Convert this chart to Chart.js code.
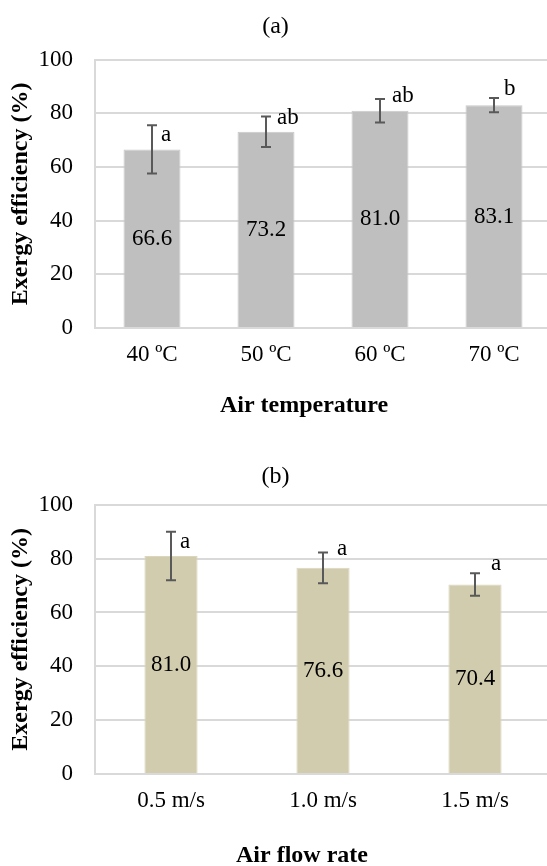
<!DOCTYPE html>
<html>
<head>
<meta charset="utf-8">
<script src="https://cdn.jsdelivr.net/npm/chart.js@4.4.1/dist/chart.umd.min.js"></script>
<style>
  html, body { margin: 0; padding: 0; background: #fff; width: 547px; height: 866px; overflow: hidden; }
  .panel { position: absolute; left: 0; }
  canvas { display: block; }
</style>
</head>
<body>
<div class="panel" style="top:0px"><canvas id="tempChart" width="551" height="433"></canvas></div>
<div class="panel" style="top:433px"><canvas id="flowChart" width="551" height="440"></canvas></div>
<script>
// Panel (a): exergy efficiency vs. drying air temperature
const tempLabels = ['40 ºC', '50 ºC', '60 ºC', '70 ºC'];
const tempMeans  = [66.6, 73.2, 81.0, 83.1];
const tempSD     = [9.0, 5.7, 4.4, 2.7];
const tempGroups = ['a', 'ab', 'ab', 'b'];

// Panel (b): exergy efficiency vs. air flow rate
const flowLabels = ['0.5 m/s', '1.0 m/s', '1.5 m/s'];
const flowMeans  = [81.0, 76.6, 70.4];
const flowSD     = [9.0, 5.7, 4.2];
const flowGroups = ['a', 'a', 'a'];

// Shared y axis
const yMin = 0, yMax = 100, yStep = 20;
const yTitle = 'Exergy efficiency (%)';

const SERIF = '"Liberation Serif", "Times New Roman", Times, serif';
const GRID = '#D9D9D9';

// Error bars, in-bar value labels and significance letters
const barAnnotations = {
  id: 'barAnnotations',
  afterDatasetsDraw(chart, args, opts) {
    const ctx = chart.ctx;
    const yScale = chart.scales.y;
    const ds = chart.data.datasets[0];
    const meta = chart.getDatasetMeta(0);
    ctx.save();
    meta.data.forEach((bar, i) => {
      const v = ds.data[i];
      const e = ds.errors[i];
      const x = bar.x;
      const yTop = yScale.getPixelForValue(v + e);
      const yBot = yScale.getPixelForValue(v - e);
      ctx.strokeStyle = opts.color;
      ctx.lineWidth = opts.lineWidth;
      ctx.beginPath();
      ctx.moveTo(x, yTop); ctx.lineTo(x, yBot);
      ctx.moveTo(x - opts.cap, yTop); ctx.lineTo(x + opts.cap, yTop);
      ctx.moveTo(x - opts.cap, yBot); ctx.lineTo(x + opts.cap, yBot);
      ctx.stroke();

      ctx.fillStyle = '#000';
      ctx.font = opts.font;
      ctx.textAlign = 'center';
      ctx.textBaseline = 'middle';
      ctx.fillText(v.toFixed(1), x, yScale.getPixelForValue(v / 2));

      const off = opts.letterOffsets[i];
      ctx.textAlign = 'left';
      ctx.textBaseline = 'alphabetic';
      ctx.fillText(ds.groups[i], x + off[0], yTop + off[1]);
    });
    ctx.restore();
  }
};

// Category axis title below the tick labels
const xAxisTitle = {
  id: 'xAxisTitle',
  afterDraw(chart, args, opts) {
    const ctx = chart.ctx;
    const a = chart.chartArea;
    ctx.save();
    ctx.fillStyle = '#000';
    ctx.font = 'bold 24px ' + SERIF;
    ctx.textAlign = 'center';
    ctx.textBaseline = 'middle';
    ctx.fillText(opts.text, (a.left + a.right) / 2 + opts.dx, opts.y);
    ctx.restore();
  }
};

function makeChart(id, cfg) {
  return new Chart(document.getElementById(id), {
    type: 'bar',
    data: {
      labels: cfg.labels,
      datasets: [{
        data: cfg.means,
        errors: cfg.sd,
        groups: cfg.groups,
        backgroundColor: cfg.fill,
        borderColor: cfg.edge,
        borderWidth: 1,
        barPercentage: cfg.barPct,
        categoryPercentage: 1.0
      }]
    },
    options: {
      responsive: false,
      devicePixelRatio: 1,
      animation: false,
      layout: { padding: { left: 0, right: 0, top: 0, bottom: 0 } },
      plugins: {
        legend: { display: false },
        tooltip: { enabled: false },
        title: {
          display: true,
          text: cfg.title,
          color: '#000',
          font: { family: SERIF, size: 24, weight: 'normal' },
          padding: cfg.titlePad
        },
        barAnnotations: {
          color: '#595959',
          lineWidth: 2,
          cap: 5,
          font: '23px ' + SERIF,
          letterOffsets: cfg.letterOffsets
        },
        xAxisTitle: { text: cfg.xTitle, dx: cfg.xTitleDx, y: cfg.xTitleY }
      },
      scales: {
        x: {
          grid: { display: false, drawTicks: false },
          border: { display: true, color: GRID, width: 2 },
          ticks: {
            color: '#000',
            font: { family: SERIF, size: 23 },
            padding: 13,
            maxRotation: 0,
            autoSkip: false
          },
          afterFit(scale) { scale.height = cfg.xHeight; }
        },
        y: {
          min: yMin,
          max: yMax,
          grid: { color: GRID, lineWidth: 2, drawTicks: false },
          border: { display: true, color: GRID, width: 2 },
          ticks: {
            stepSize: yStep,
            color: '#000',
            font: { family: SERIF, size: 23 },
            padding: 22
          },
          title: {
            display: true,
            text: yTitle,
            color: '#000',
            font: { family: SERIF, size: 24, weight: 'bold' },
            padding: { top: 6, bottom: 0 }
          },
          afterFit(scale) { scale.width = 95; }
        }
      }
    },
    plugins: [barAnnotations, xAxisTitle]
  });
}

makeChart('tempChart', {
  labels: tempLabels,
  means: tempMeans,
  sd: tempSD,
  groups: tempGroups,
  fill: '#BFBFBF',
  edge: '#C9C9C9',
  barPct: 0.5,
  title: '(a)',
  titlePad: { top: 12, bottom: 19 },
  xHeight: 105,
  xTitle: 'Air temperature',
  xTitleDx: -19,
  xTitleY: 406,
  letterOffsets: [[9, 16], [11, 8], [12, 3], [10, -3]]
});

makeChart('flowChart', {
  labels: flowLabels,
  means: flowMeans,
  sd: flowSD,
  groups: flowGroups,
  fill: '#D1CCAE',
  edge: '#DAD6BE',
  barPct: 0.35,
  title: '(b)',
  titlePad: { top: 29, bottom: 14 },
  xHeight: 99,
  xTitle: 'Air flow rate',
  xTitleDx: -21,
  xTitleY: 423,
  letterOffsets: [[9, 16], [14, 3], [16, -3]]
});
</script>
</body>
</html>
